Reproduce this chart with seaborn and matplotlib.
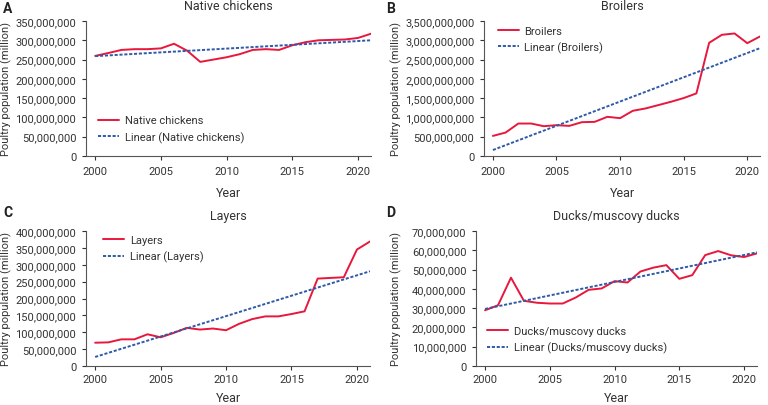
import numpy as np
import pandas as pd
import seaborn as sns
import matplotlib.pyplot as plt
from matplotlib.ticker import FuncFormatter, MultipleLocator

years = list(range(2000, 2022))

native = [259.5, 267, 275, 277, 277, 279, 291, 273, 244, 250, 256, 264,
          275, 277, 275, 287, 295, 300, 301, 302, 306, 317]
broilers = [521, 608, 842, 842, 773, 799, 781, 877, 885, 1016, 981, 1172,
            1233, 1319, 1406, 1502, 1623, 2934, 3142, 3177, 2925, 3099]
layers = [69, 70, 79, 79, 94, 85, 98, 113, 108, 111, 106, 125,
          139, 147, 147, 154, 162, 259, 261, 263, 345, 369]
ducks = [28.9, 31.5, 45.8, 33.8, 32.8, 32.4, 32.4, 35.5, 39.5, 40.2, 44.0, 43.3,
         49.0, 51.0, 52.3, 45.2, 47.1, 57.5, 59.6, 57.4, 56.5, 58.4]

names = ["Native chickens", "Broilers", "Layers", "Ducks/muscovy ducks"]
letters = ["A", "B", "C", "D"]
series = [native, broilers, layers, ducks]
ymax = [350e6, 3500e6, 400e6, 70e6]
ystep = [50e6, 500e6, 50e6, 10e6]

RED = "#e8173c"
BLUE = "#2f5aa8"

sns.set_style("ticks")
plt.rcParams["font.family"] = ["Roboto", "DejaVu Sans"]
plt.rcParams["text.color"] = "#333333"
plt.rcParams["axes.labelcolor"] = "#333333"

fig = plt.figure(figsize=(7.68, 4.06), dpi=100)
W, H = 768, 406
# axes boxes in pixels: left, top, right, bottom
boxes = [(86, 22, 371, 157), (484, 22, 760, 157),
         (86, 232, 370, 367), (476, 232, 757, 367)]
label_pos = [(3, 2), (386, 2), (3, 206), (386, 206)]
ylab_x = [12, 402, 12, 402]
xlab_top = [187, 187, 392, 392]
leg = [("lower left", (0.042, 0.10)), ("upper left", (0.05, 0.965)),
       ("upper left", (0.06, 0.97)), ("lower left", (0.04, 0.095))]
xpad = [4.5, 4.5, 3, 3]

for i in range(4):
    l, t, r, b = boxes[i]
    ax = fig.add_axes([l / W, 1 - b / H, (r - l) / W, (b - t) / H])
    vals = np.array(series[i]) * 1e6
    df = pd.DataFrame({"Year": years, "val": vals})
    k, c = np.polyfit(df["Year"], df["val"], 1)
    df["trend"] = k * df["Year"] + c
    sns.lineplot(data=df, x="Year", y="val", ax=ax, color=RED, lw=1.4,
                 label=names[i])
    sns.lineplot(data=df, x="Year", y="trend", ax=ax, color=BLUE, lw=1.4,
                 linestyle=(0, (1.6, 0.9)), label="Linear (%s)" % names[i])
    ax.set_xlim(1999.3, 2021)
    ax.set_ylim(0, ymax[i])
    ax.xaxis.set_major_locator(MultipleLocator(5))
    ax.yaxis.set_major_locator(MultipleLocator(ystep[i]))
    ax.yaxis.set_major_formatter(FuncFormatter(lambda v, p: f"{int(round(v)):,}"))
    ax.tick_params(labelsize=8, length=3, width=0.8, colors="#333333")
    ax.tick_params(axis="x", pad=xpad[i])
    ax.tick_params(axis="y", pad=4)
    for s in ["top", "right"]:
        ax.spines[s].set_visible(False)
    for s in ["left", "bottom"]:
        ax.spines[s].set_color("#555555")
        ax.spines[s].set_linewidth(0.8)
    ax.set_xlabel("Year", fontsize=9)
    ax.xaxis.set_label_coords(0.5, -(xlab_top[i] - b) / (b - t))
    ax.set_ylabel("Poultry population (million)", fontsize=8)
    ax.yaxis.set_label_coords((ylab_x[i] - l) / (r - l), 0.5)
    ax.set_title(names[i], fontsize=9, pad=8.5)
    ax.legend(loc=leg[i][0], bbox_to_anchor=leg[i][1], frameon=False,
              fontsize=8, handlelength=1.9, handletextpad=0.5,
              labelspacing=0.5, borderpad=0, borderaxespad=0)
    fig.text(label_pos[i][0] / W, 1 - label_pos[i][1] / H, letters[i],
             fontsize=10, fontweight="bold", va="top", ha="left", color="#222222")

fig.savefig("out.png", dpi=100)
